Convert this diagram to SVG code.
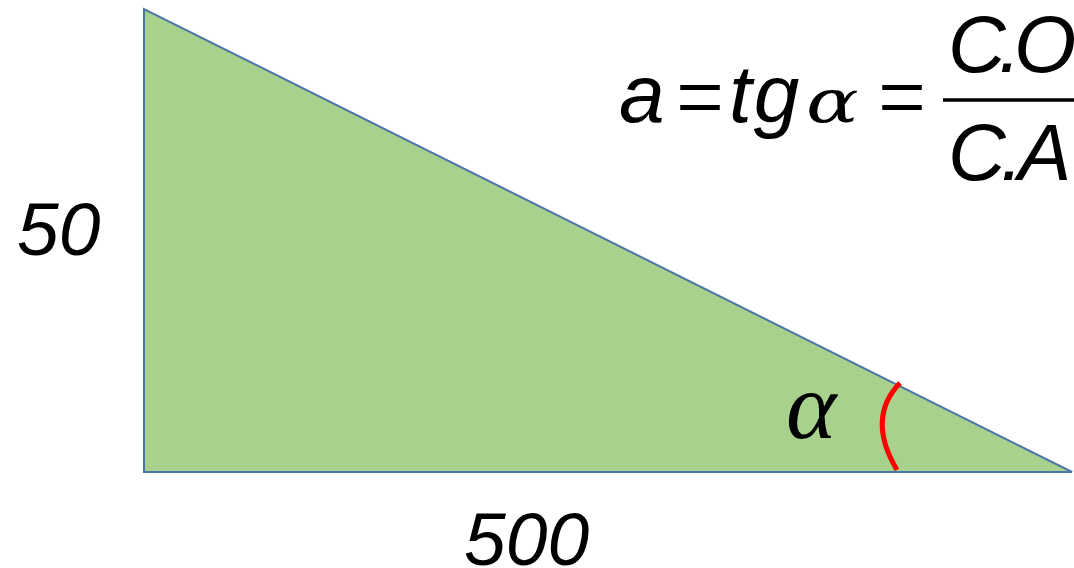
<svg xmlns="http://www.w3.org/2000/svg" width="1074" height="568" viewBox="0 0 1074 568">
<style>
.lbl{font-family:"Liberation Sans",Arial,sans-serif;font-style:italic;fill:#000}
.eq{font-family:"Liberation Serif","Times New Roman",serif;fill:#000}
.gr{font-family:"DejaVu Serif","Liberation Serif",serif;font-style:italic;fill:#000}
.gt{font-family:"Liberation Serif","Times New Roman",serif;font-style:italic;fill:#000}
</style>
<rect width="1074" height="568" fill="#fff"/>
<g id="triangle">
<polygon points="144,9 144,472 1072,472" fill="#a9d18e" stroke="#4a76a8" stroke-width="2"/>
</g>
<g id="angle">
<path d="M 900 383 Q 866 418 897 470" fill="none" stroke="#ff0000" stroke-width="5"/>
<text class="gt" x="786" y="438" font-size="96">α</text>
</g>
<g id="label-50"><text class="lbl" x="17" y="255" font-size="75">50</text></g>
<g id="label-500"><text class="lbl" x="464" y="565" font-size="75">500</text></g>
<g id="formula">
<text class="lbl" x="619" y="122" font-size="82">a</text>
<text class="eq" transform="translate(676,131) scale(0.85,1)" font-size="100">=</text>
<text class="lbl" x="729" y="122" font-size="82" letter-spacing="2">tg</text>
<text class="gr" transform="translate(806,122) scale(1.3,1)" font-size="60">α</text>
<text class="eq" transform="translate(878,131) scale(0.85,1)" font-size="100">=</text>
<text class="lbl" x="948" y="72" font-size="80" letter-spacing="-7">C.O</text>
<line x1="943" y1="100" x2="1074" y2="100" stroke="#000" stroke-width="3.5"/>
<text class="lbl" x="948" y="180" font-size="80" letter-spacing="-5">C.A</text>
</g>
</svg>
